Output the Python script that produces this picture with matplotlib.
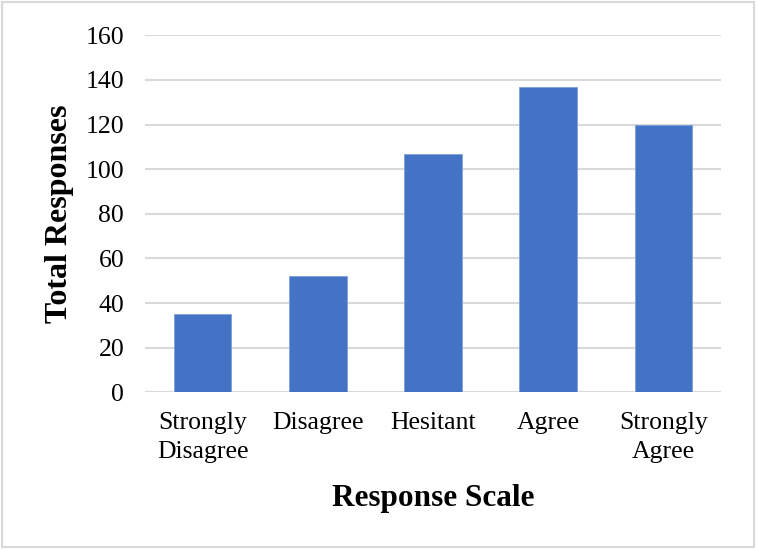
import matplotlib
matplotlib.use("Agg")
import matplotlib.pyplot as plt
from matplotlib.patches import Rectangle

categories = ["Strongly\nDisagree", "Disagree", "Hesitant", "Agree", "Strongly\nAgree"]
values = [35, 52, 107, 137, 120]
yticks = [0, 20, 40, 60, 80, 100, 120, 140, 160]

plt.rcParams['font.family'] = ['Liberation Serif', 'DejaVu Serif']

fig = plt.figure(figsize=(7.57, 5.5), dpi=100)
ax = fig.add_axes([145/757, 1-392.3/550, (721-145)/757, (392.3-35.3)/550])

x = list(range(len(categories)))
ax.bar(x, values, width=0.5, color="#4472C4", edgecolor="#7f9fdb", linewidth=0.6, zorder=3)

ax.set_xlim(-0.5, len(categories) - 0.5)
ax.set_ylim(0, 160)
ax.set_yticks(yticks)
ax.set_xticks(x)
ax.set_xticklabels(categories, linespacing=1.38)
ax.yaxis.grid(True, color="#d9d9d9", linewidth=1.5, zorder=0)
ax.set_axisbelow(True)
for s in ax.spines.values():
    s.set_visible(False)
ax.tick_params(axis='both', length=0, labelsize=18.5, colors="black")
ax.tick_params(axis='y', pad=15)
ax.tick_params(axis='x', pad=14.5)

ax.set_ylabel("Total Responses", fontsize=23, fontweight='bold', labelpad=8)
ax.set_xlabel("Response Scale", fontsize=22.5, fontweight='bold', labelpad=15)

fig.patches.append(Rectangle((2/757, 3/550), 752/757, 545/550, transform=fig.transFigure,
                             fill=False, edgecolor="#d9d9d9", linewidth=1.5))

fig.savefig("out.png", dpi=100)
